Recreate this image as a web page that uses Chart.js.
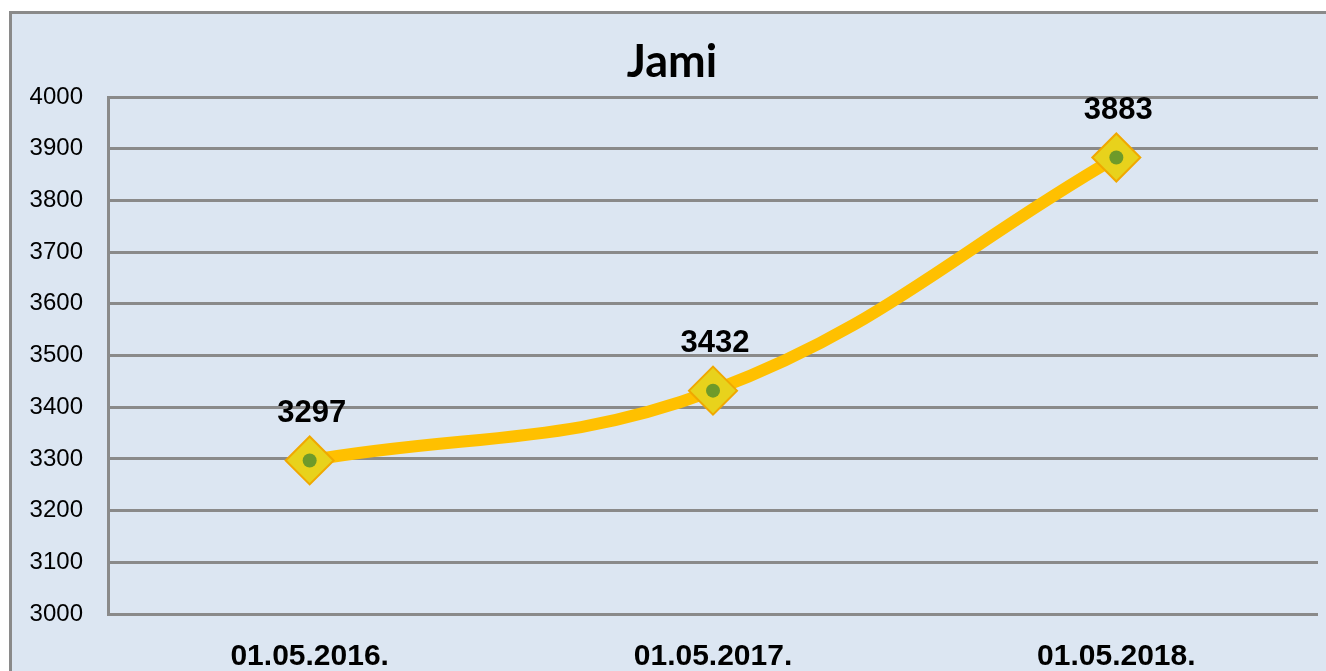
<!DOCTYPE html>
<html>
<head>
<meta charset="utf-8">
<script src="https://cdn.jsdelivr.net/npm/chart.js@4/dist/chart.umd.min.js"></script>
<style>
  html, body { margin: 0; padding: 0; background: #ffffff; }
  #panel { position: absolute; left: 9px; top: 11px; width: 1317px; height: 660px;
           background: #DCE6F2; border-left: 3px solid #8A8A8A; border-top: 3px solid #8A8A8A; box-sizing: border-box; }
  #wrap { position: absolute; left: 0; top: 0; width: 1326px; height: 671px; }
</style>
</head>
<body>
<div id="panel"></div>
<div id="wrap"><canvas id="c" width="1326" height="671"></canvas></div>
<script>
const categories = ['01.05.2016.', '01.05.2017.', '01.05.2018.'];
const values = [3297, 3432, 3883];
const chartTitle = 'Jami';
const yMin = 3000, yMax = 4000, yStep = 100;

const extras = {
  id: 'extras',
  afterDraw(chart) {
    const ctx = chart.ctx;
    const meta = chart.getDatasetMeta(0);
    ctx.save();
    ctx.fillStyle = '#000';
    ctx.textAlign = 'center';
    ctx.textBaseline = 'middle';
    ctx.font = 'bold 31px "Liberation Sans", Arial, sans-serif';
    meta.data.forEach((pt, i) => {
      ctx.fillText(String(values[i]), pt.x + 2, pt.y - 47);
    });
    ctx.font = 'bold 45px Lato, "Open Sans", sans-serif';
    ctx.fillText(chartTitle, 672, 62);
    ctx.restore();
  }
};

new Chart(document.getElementById('c'), {
  type: 'line',
  data: {
    labels: categories,
    datasets: [
      {
        data: values,
        borderColor: '#FFC000',
        borderWidth: 12,
        tension: 0.4,
        pointStyle: 'rectRot',
        pointRadius: 24,
        pointBackgroundColor: '#E8D21C',
        pointBorderColor: '#F0A800',
        pointBorderWidth: 2,
        order: 2
      },
      {
        data: values,
        showLine: false,
        pointStyle: 'circle',
        pointRadius: 7,
        pointBackgroundColor: '#6E9A2A',
        pointBorderWidth: 0,
        order: 1
      }
    ]
  },
  options: {
    responsive: false,
    animation: false,
    layout: { autoPadding: false, padding: { left: 0, right: 8, top: 97, bottom: 0 } },
    plugins: {
      legend: { display: false },
      tooltip: { enabled: false },
      title: { display: false }
    },
    scales: {
      x: {
        offset: true,
        grid: { display: false, drawTicks: false },
        border: { display: false },
        ticks: {
          color: '#000',
          padding: 25,
          font: { family: '"Liberation Sans", Arial, sans-serif', size: 30, weight: 'bold' }
        },
        afterFit(scale) { scale.height = 57; scale.paddingLeft = 0; scale.paddingRight = 0; }
      },
      y: {
        min: yMin,
        max: yMax,
        grid: { color: '#8A8A8A', lineWidth: 3, drawTicks: false },
        border: { display: true, color: '#8A8A8A', width: 3 },
        ticks: {
          stepSize: yStep,
          color: '#000',
          padding: 25,
          callback: (v) => String(v),
          font: { family: '"Liberation Sans", Arial, sans-serif', size: 24 }
        },
        afterFit(scale) { scale.width = 108; scale.paddingTop = 0; scale.paddingBottom = 0; }
      }
    }
  },
  plugins: [extras]
});
</script>
</body>
</html>
